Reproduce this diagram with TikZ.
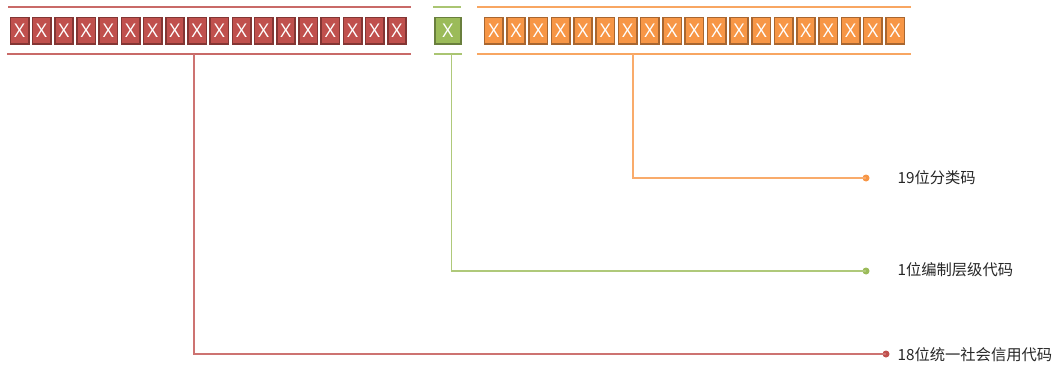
\documentclass[tikz,border=0pt]{standalone}
\usepackage{fontspec}
\setmainfont{Open Sans}
\newfontfamily\cjk{Noto Sans CJK SC}
\usetikzlibrary{positioning}

\definecolor{codered}{HTML}{C0504D}
\definecolor{codegreen}{HTML}{9BBB59}
\definecolor{codeorange}{HTML}{F79646}

\begin{document}
\begin{tikzpicture}[
    x=1pt, y=-1pt,
    cell/.style={draw=#1!68!black, fill=#1, line width=1.6pt, minimum width=18.4pt,
        minimum height=26.4pt, inner sep=0pt, text=white, font=\fontsize{19}{19}\selectfont},
    rule/.style={draw=#1!85!white, line width=1.2pt},
    link/.style={draw=#1!80!white, line width=1.1pt},
    dot/.style={circle, fill=#1, inner sep=0pt, minimum size=7pt},
    label/.style={anchor=west, font=\cjk\fontsize{15.3}{16}\selectfont, text=black!85}
]
    \useasboundingbox (0,0) rectangle (1056,367);

    % 各格子的间距
    \def\cellsep{22.2}

    % 18位统一社会信用代码
    \foreach \i in {1,...,18} {
        \node[cell=codered] (r\i) at ({19.5+(\i-1)*\cellsep}, 30.8) {X};
    }
    \draw[rule=codered] (8,7) -- (411,7);
    \draw[rule=codered] (7,54) -- (411,54);
    \coordinate (rbase) at (194,54);

    % 1位编制层级代码
    \node[cell=codegreen, minimum width=26.2pt] (g1) at (447.8, 30.8) {X};
    \draw[rule=codegreen] (433,7) -- (461,7);
    \draw[rule=codegreen] (434,54) -- (462,54);
    \coordinate (gbase) at (451.5,54);

    % 19位分类码
    \foreach \i in {1,...,19} {
        \node[cell=codeorange] (o\i) at ({493.75+(\i-1)*22.3}, 30.8) {X};
    }
    \draw[rule=codeorange] (477,7) -- (911,7);
    \draw[rule=codeorange] (477,54) -- (911,54);
    \coordinate (obase) at (633,54);

    % 右侧的说明
    \node[dot=codeorange] (odot) at (866,178) {};
    \node[dot=codegreen] (gdot) at (866,271) {};
    \node[dot=codered] (rdot) at (886,354) {};
    \node[label] (olabel) at (894,178) {19位分类码};
    \node[label] (glabel) at (894,270) {1位编制层级代码};
    \node[label] (rlabel) at (894,355) {18位统一社会信用代码};

    % 连接线
    \draw[link=codeorange] (obase) |- (odot.center);
    \draw[link=codegreen] (gbase) |- (gdot.center);
    \draw[link=codered] (rbase) |- (rdot.center);

\end{tikzpicture}
\end{document}
